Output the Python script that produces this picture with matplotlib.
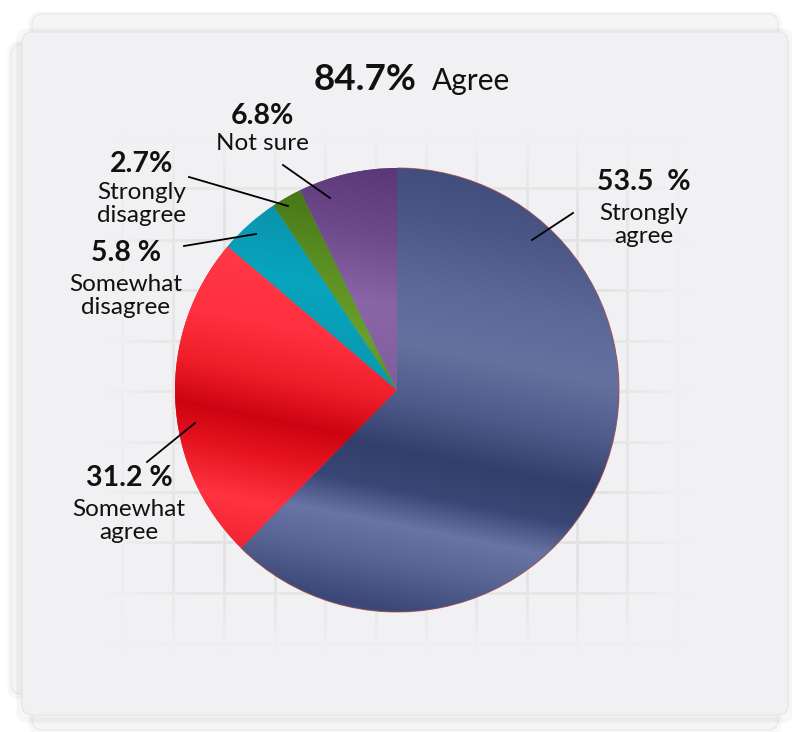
import numpy as np
import matplotlib
matplotlib.use('agg')
import matplotlib.pyplot as plt
from matplotlib.patches import FancyBboxPatch, Arc
from matplotlib.colors import to_rgb

W, H = 792, 732

# slice shares as drawn (angles), labels as printed
labels = ['Strongly\nagree', 'Somewhat\nagree', 'Somewhat\ndisagree', 'Strongly\ndisagree', 'Not sure']
label_pct = ['53.5  %', '31.2 %', '5.8 %', '2.7%', '6.8%']
slice_share = [62.4, 23.8, 4.4, 2.2, 7.2]
agree_total = '84.7%'
agree_word = 'Agree'

plt.rcParams['font.family'] = ['Lato', 'DejaVu Sans']

fig = plt.figure(figsize=(W / 100, H / 100), dpi=100, facecolor='white')
ax = fig.add_axes([0, 0, 1, 1])

def Y(y):
	return H - y

# paper stack
for x0, y0, w, h, c in [(11, 44, 760, 650, '#f4f4f5'), (32, 14, 746, 716, '#f5f5f6')]:
	for k in range(4):
		ax.add_patch(FancyBboxPatch((x0 - k, Y(y0 + h) - k - 1), w + 2 * k, h + 2 * k,
			boxstyle='round,pad=0,rounding_size=10', fc='none', ec='#000000', lw=1, alpha=0.025, zorder=1))
	ax.add_patch(FancyBboxPatch((x0, Y(y0 + h)), w, h, boxstyle='round,pad=0,rounding_size=10',
		fc=c, ec='#e6e6e8', lw=0.8, zorder=1))
for k in range(6):
	ax.add_patch(FancyBboxPatch((22 - k, Y(715) - k - 2), 766 + 2 * k, 683 + 2 * k,
		boxstyle='round,pad=0,rounding_size=10', fc='none', ec='#000000', lw=1.2, alpha=0.022, zorder=2))
ax.add_patch(FancyBboxPatch((22, Y(715)), 766, 683, boxstyle='round,pad=0,rounding_size=10',
	fc='#f1f1f3', ec='#e4e4e6', lw=0.8, zorder=2))

# faint grid behind the pie, fading out
img = np.zeros((H, W, 4))
img[..., :3] = 0.84
mask = np.zeros((H, W))
for gx in [122, 173, 224, 275, 325, 376, 426, 476, 527, 577, 627, 678]:
	mask[:, gx - 1:gx + 2] = 1
for gy in [138, 188, 240, 290, 341, 391, 442, 492, 542, 593, 643]:
	mask[gy - 1:gy + 2, :] = 1
xx = np.arange(W)
yy = np.arange(H)
fx = np.clip(np.minimum((xx - 105) / 90, (690 - xx) / 90), 0, 1)
fy = np.clip(np.minimum((yy - 130) / 80, (655 - yy) / 80), 0, 1)
img[..., 3] = mask * np.outer(fy, fx) * 0.5
ax.imshow(img, extent=(0, W, 0, H), origin='upper', zorder=3, interpolation='bilinear')

# pie
cx, cy, r = 397, 390, 222
wedges, _ = ax.pie(slice_share, startangle=90, counterclock=False, radius=r,
	center=(cx, Y(cy)), frame=True, colors=['#4e5b8a', '#ee1c28', '#0aa0b8', '#559022', '#7a5698'],
	wedgeprops=dict(lw=0, zorder=4))

shades = [
	(500, [(150, '#3b4877'), (230, '#4a5786'), (300, '#5c6898'), (360, '#6572a0'), (420, '#4e5b8a'),
		(470, '#323f6b'), (510, '#3a4776'), (545, '#6874a4'), (580, '#5a6696'), (630, '#3c4978')]),
	(250, [(230, '#ff3a48'), (320, '#ff3040'), (370, '#f01e2a'), (415, '#cc0412'), (450, '#e5121e'),
		(500, '#ff3341'), (560, '#f0202c')]),
	(300, [(200, '#0a90aa'), (280, '#08a4bd'), (390, '#0996ad')]),
	(320, [(190, '#457416'), (260, '#5a8e22'), (330, '#6aa02e'), (390, '#4e8020')]),
	(350, [(160, '#5a3777'), (230, '#6e4a8c'), (300, '#8a66a8'), (390, '#7f5c9c')]),
]
px = np.arange(cx - r, cx + r)
py = np.arange(cy - r, cy + r)
PX, PY = np.meshgrid(px, py)
for wdg, (xref, stops) in zip(wedges, shades):
	ey = PY - 0.2 * (PX - xref)
	sy = np.array([s[0] for s in stops], float)
	sc = np.array([to_rgb(s[1]) for s in stops])
	tex = np.stack([np.interp(ey, sy, sc[:, i]) for i in range(3)], axis=-1)
	im = ax.imshow(tex, extent=(cx - r, cx + r, Y(cy + r), Y(cy - r)), origin='upper', zorder=5,
		interpolation='bilinear')
	im.set_clip_path(wdg)
ax.add_patch(Arc((cx, Y(cy)), 2 * r, 2 * r, theta1=wedges[0].theta1, theta2=wedges[0].theta2,
	color='#a84a4a', lw=0.8, alpha=0.7, zorder=6))

ax.set_xlim(0, W)
ax.set_ylim(0, H)
ax.axis('off')

# labels and leader lines
num_kw = dict(fontsize=20.5, fontweight='bold', color='#111111', ha='center', va='center', zorder=8)
txt_kw = dict(fontsize=17.5, color='#111111', ha='center', va='center', linespacing=1.12, zorder=8)
label_pos = [(644, 182, 225), (129, 478, 521), (126, 253, 296), (142, 164, 204), (262, 116, 143)]
leaders = [((573, 213), (532, 240)), ((147, 462), (195, 423)), ((184, 246), (256, 234)),
	((189, 177), (288, 206)), ((283, 165), (330, 198))]
for lab, pct, (lx, ly, ty), (p0, p1) in zip(labels, label_pct, label_pos, leaders):
	ax.text(lx, Y(ly), pct, **num_kw)
	ax.text(lx, Y(ty), lab, **txt_kw)
	ax.plot([p0[0], p1[0]], [Y(p0[1]), Y(p1[1])], color='black', lw=1.3, zorder=9)

ax.text(314, Y(80), agree_total, fontsize=26.5, fontweight='bold', color='#111111', ha='left', va='center', zorder=8)
ax.text(432, Y(81), agree_word, fontsize=21.5, color='#111111', ha='left', va='center', zorder=8)

plt.savefig('out.png', dpi=100, facecolor='white')
plt.close()
